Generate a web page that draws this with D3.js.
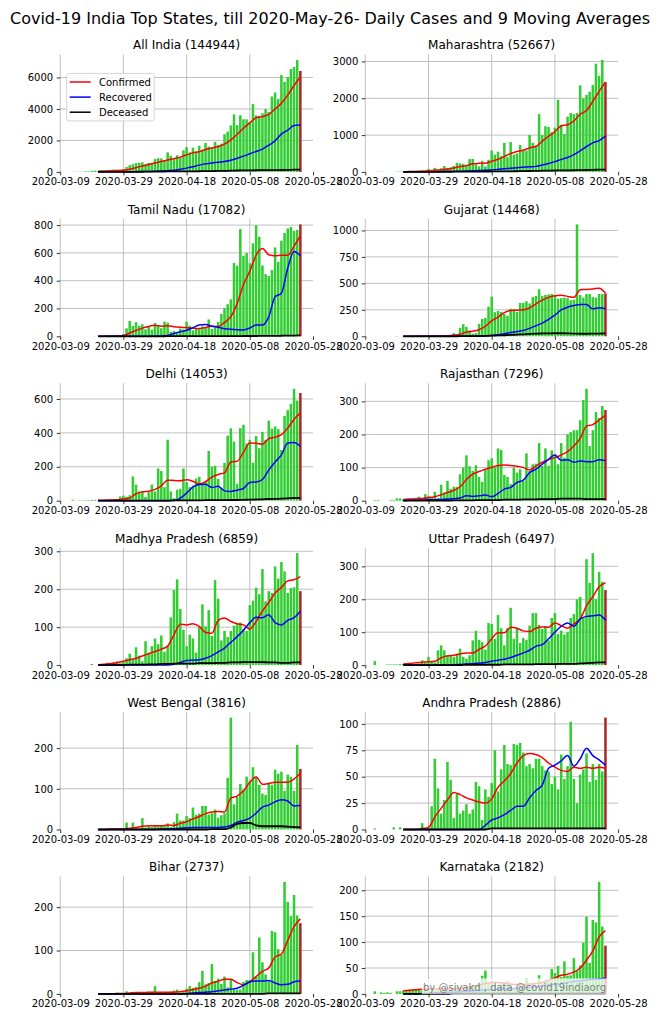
<!DOCTYPE html>
<html><head><meta charset="utf-8">
<script src="https://cdnjs.cloudflare.com/ajax/libs/d3/7.8.5/d3.min.js"></script>
<style>
body{margin:0;background:#fff}
svg{display:block}
text{font-family:"DejaVu Sans",sans-serif}
</style>
</head><body>
<svg id="c" width="660" height="1018"></svg>
<script>
// ---------- DATA ----------
const chartTitle = "Covid-19 India Top States, till 2020-May-26- Daily Cases and 9 Moving Averages";
const states = ["All India","Maharashtra","Tamil Nadu","Gujarat","Delhi","Rajasthan","Madhya Pradesh","Uttar Pradesh","West Bengal","Andhra Pradesh","Bihar","Karnataka"];
const totals = [144944,52667,17082,14468,14053,7296,6859,6497,3816,2886,2737,2182];
const firstDay = "2020-03-09";   // daily bars: one value per day from this date
const dayCount = 77;
const maFirstIndex = 12, maStep = 2; // moving-average samples every 2 days from 2020-03-21
const xTickLabels = ["2020-03-09","2020-03-29","2020-04-18","2020-05-08","2020-05-28"];
const xDomainEnd = "2020-05-28";
const legendLabels = ["Confirmed","Recovered","Deceased"];
const watermark = "by @sivakd , data @covid19indiaorg";

const yTicks = [[0,2000,4000,6000],[0,1000,2000,3000],[0,200,400,600,800],[0,250,500,750,1000],
  [0,200,400,600],[0,100,200,300],[0,100,200,300],[0,100,200,300],[0,100,200],[0,25,50,75,100],[0,100,200],[0,50,100,150,200]];

const indiaDaily = [0,0,0,0,12,14,15,11,37,27,58,78,69,94,74,86,73,153,136,120,187,309,424,486,560,579,609,484,573,565,813,871,854,758,1243,1031,886,1061,922,1371,1580,1239,1537,1292,1667,1408,1835,1607,1568,1902,1705,1801,2396,2564,2952,3656,2971,3602,3344,3339,3175,4311,3592,3562,3726,3991,3808,4794,5049,4628,6154,5720,6023,6536,6667,7111,6414];
const mhDaily = [0,0,0,0,5,5,3,0,0,0,8,10,10,15,30,20,30,20,40,20,80,50,110,60,100,160,110,120,160,250,230,220,180,350,350,200,150,300,150,330,580,470,550,430,790,400,810,470,500,730,600,580,1000,790,720,1570,1000,1240,1220,1080,1200,1960,1280,1030,1500,1600,1570,1600,2350,2000,2090,2180,2360,2940,2610,3040,2436];
const tnDaily = [0,0,0,0,0,0,0,0,0,0,0,1,1,3,3,6,3,6,2,8,17,57,110,75,102,74,86,50,69,48,96,77,58,106,98,31,38,25,56,49,105,76,43,56,54,72,66,121,52,64,104,161,203,231,266,527,508,771,580,600,526,669,798,716,509,447,434,477,639,536,688,743,776,786,759,765,805];
const gjDaily = [0,0,0,0,0,0,0,0,0,0,2,0,1,2,3,4,3,2,4,3,5,4,8,5,7,10,8,10,30,20,80,115,90,55,25,30,116,165,175,280,375,228,240,230,210,195,260,255,230,315,315,330,310,370,380,445,380,390,395,400,390,355,360,365,360,340,345,1057,390,365,400,400,370,365,400,400,405];
const dlDaily = [0,0,0,0,5,0,2,2,3,3,5,5,2,3,5,3,5,8,10,25,30,23,32,143,95,55,58,22,50,95,55,190,175,80,360,55,15,65,70,190,110,80,90,130,140,100,111,293,200,206,128,76,223,384,427,349,100,428,448,338,359,224,381,310,406,359,472,425,438,422,299,500,534,571,660,591,635];
const rjDaily = [0,0,0,2,2,0,0,0,2,2,7,7,4,3,4,5,4,12,5,20,15,10,27,8,48,25,60,35,42,42,80,100,137,104,90,107,72,57,93,122,128,100,158,153,78,72,50,100,85,95,60,143,90,110,112,174,105,158,105,152,140,110,174,130,200,207,213,213,243,304,338,165,213,268,250,286,274];
const mpDaily = [0,0,0,0,0,0,0,0,0,0,3,0,0,0,0,6,0,8,10,5,8,18,30,15,47,25,10,63,33,50,70,55,78,35,50,126,198,226,148,93,50,80,70,33,100,160,102,145,77,224,175,65,90,74,90,104,108,112,95,90,158,170,204,187,253,168,195,190,260,228,272,247,190,203,205,295,195];
const upDaily = [0,0,0,12,0,0,0,2,2,2,2,3,3,2,3,5,3,5,15,8,25,10,8,45,60,45,30,30,25,35,50,25,20,30,75,104,77,70,47,128,125,80,152,112,60,112,174,80,112,67,82,77,120,158,158,122,110,118,75,143,158,95,105,93,100,143,155,200,207,145,322,250,340,200,283,253,228];
const wbDaily = [0,0,0,0,0,0,0,0,0,0,0,0,1,0,1,0,0,3,1,2,1,17,2,17,3,2,28,5,8,6,10,8,10,8,15,6,18,39,22,22,33,28,54,36,39,58,58,37,40,49,29,35,40,127,275,62,80,112,98,130,120,153,130,110,88,85,115,110,147,137,142,95,135,130,95,208,149];
const apDaily = [0,0,0,1,0,0,0,0,0,2,0,2,0,0,0,0,0,0,6,0,1,22,67,39,15,28,64,47,11,34,15,18,24,15,19,45,41,9,38,31,44,75,36,57,80,62,61,81,80,82,73,60,62,58,67,67,60,56,55,43,50,38,71,48,60,102,48,25,52,57,72,45,62,47,62,55,106];
const bhDaily = [0,0,0,0,0,0,0,0,0,0,0,0,0,0,0,0,2,1,3,2,1,6,2,3,2,3,2,1,5,2,18,3,2,4,3,5,8,10,3,5,12,18,14,16,27,53,22,25,69,30,35,23,40,15,35,10,10,10,28,32,32,96,40,130,73,45,30,145,142,103,90,258,212,180,228,181,163];
const kaDaily = [0,0,0,5,0,3,2,3,2,0,5,5,6,7,8,9,9,10,8,12,10,9,7,12,14,10,8,12,10,15,12,14,10,15,18,17,22,35,45,20,25,18,15,20,18,25,15,12,20,22,18,30,12,22,15,36,20,25,25,48,40,54,33,63,35,36,69,45,55,99,149,60,143,138,216,130,93];

// 9-day moving averages, sampled every 2 days (2020-03-21 .. 2020-05-24)
const indiaConf = [36,51,66,91,110,174,272,379,468,566,656,752,844,938,1078,1208,1284,1428,1526,1613,1765,2037,2391,2777,3111,3438,3514,3650,4001,4367,4877,5487,6034];
const indiaRec = [2,3,4,5,7,10,14,20,30,45,60,80,110,170,240,330,430,510,570,610,660,740,870,1000,1150,1300,1450,1700,1970,2400,2650,2950,2980];
const indiaDec = [1,2,2,3,4,6,8,11,14,18,24,28,32,34,36,38,42,48,55,60,66,75,88,95,100,105,110,113,116,122,130,140,148];
const mhConf = [5,8,14,20,29,44,57,81,106,144,170,219,232,237,288,342,417,501,556,587,653,689,832,969,1091,1252,1279,1382,1566,1669,1917,2189,2445];
const mhRec = [0,1,2,3,4,6,8,10,13,17,22,28,35,42,55,70,85,100,115,128,140,150,190,230,280,340,390,470,570,690,790,850,970];
const mhDec = [0,0,1,1,1,2,3,4,5,7,8,9,10,11,12,13,14,16,18,20,24,28,32,35,38,40,42,45,48,52,56,60,64];
const tnConf = [0,1,2,3,5,24,42,59,71,79,73,76,69,65,63,58,56,64,72,70,100,141,235,372,468,583,631,587,579,583,583,649,722];
const tnRec = [0,0,0,0,0,0,0,0,1,2,3,6,20,32,43,62,82,85,72,65,55,50,47,46,60,82,82,140,285,310,490,610,580];
const tnDec = [0,0,0,0,0,0,0,0,0,0,0,1,1,1,1,1,1,1,1,1,1,1,1,2,2,2,3,3,3,4,5,5,6];
const gjConf = [1,1,2,2,3,4,5,6,10,20,41,48,62,95,146,182,224,244,247,250,269,307,342,368,384,388,377,368,440,442,447,455,408];
const gjRec = [0,0,0,0,0,0,0,0,0,0,0,0,1,3,8,15,25,35,45,55,75,100,125,160,200,250,275,290,300,300,260,270,260];
const gjDec = [0,0,0,0,0,0,0,0,0,1,1,2,3,4,6,8,10,13,16,19,22,25,27,28,29,29,28,26,24,24,25,26,27];
const dlConf = [3,3,4,5,10,16,41,52,56,67,88,121,119,118,124,115,99,113,139,155,164,228,233,285,340,339,333,366,375,390,428,480,518];
const dlRec = [0,0,0,0,0,0,0,0,0,0,0,0,1,15,45,80,95,97,78,85,58,55,62,72,108,110,125,180,228,270,340,343,320];
const dlDec = [0,0,0,0,0,0,0,0,1,1,1,1,2,2,2,2,2,3,3,3,3,4,4,5,6,7,8,10,11,12,14,16,17];
const rjConf = [4,5,6,7,9,12,18,25,31,42,64,80,88,95,101,106,108,106,104,100,93,105,116,124,130,138,148,165,188,225,230,244,258];
const rjRec = [0,1,1,2,3,3,4,5,6,8,15,13,15,17,12,22,35,40,55,62,85,95,110,125,138,122,124,116,120,118,118,124,121];
const rjDec = [0,0,0,0,0,0,0,0,1,1,1,1,2,2,2,2,3,3,3,4,4,4,5,5,5,6,6,6,6,5,5,5,5];
const mpConf = [1,2,4,6,10,14,18,24,30,36,42,50,80,108,106,109,102,86,84,118,124,115,109,106,95,115,143,165,190,205,222,225,233];
const mpRec = [0,0,0,0,0,0,0,0,0,0,0,0,2,7,12,13,14,18,25,35,45,60,75,92,112,126,125,133,112,106,118,125,142];
const mpDec = [0,0,0,0,0,1,1,1,2,2,3,3,4,4,4,4,5,5,5,6,6,7,7,8,8,8,8,7,7,6,6,7,7];
const upConf = [3,5,7,9,10,12,22,28,30,34,37,37,48,58,80,98,98,115,112,104,102,112,116,115,128,120,112,125,140,180,208,238,250];
const upRec = [0,0,0,0,0,0,0,0,1,2,3,4,6,8,12,15,18,23,30,37,45,57,62,80,100,118,128,118,140,148,150,152,136];
const upDec = [0,0,0,0,0,0,0,0,0,0,1,1,1,1,1,1,2,2,2,2,2,3,3,3,3,4,4,4,5,6,7,8,8];
const wbConf = [0,0,1,1,1,3,5,8,9,9,9,11,10,15,19,26,32,39,43,44,43,77,82,95,116,129,111,113,116,116,116,124,138];
const wbRec = [0,0,0,0,0,0,0,0,0,0,1,1,2,3,4,5,5,5,5,5,6,10,18,22,28,40,55,60,68,73,70,58,59];
const wbDec = [0,0,0,0,0,0,0,0,0,0,0,0,0,0,0,0,0,0,1,1,1,5,14,16,16,10,8,8,8,8,7,6,5];
const apConf = [0,0,0,1,2,12,20,28,35,33,30,28,26,25,29,40,46,53,63,70,72,71,68,63,59,56,55,59,58,59,58,59,58];
const apRec = [0,0,0,0,0,0,0,0,0,0,0,0,0,4,9,11,14,18,22,22,30,37,42,58,61,65,70,60,67,77,70,66,61];
const apDec = [0,0,0,0,0,0,0,0,0,0,0,0,0,0,1,1,1,1,1,1,1,1,1,1,1,1,1,1,1,1,1,1,1];
const bhConf = [0,0,0,1,1,2,3,3,4,4,4,4,4,5,7,10,13,18,25,29,34,34,26,21,28,40,52,60,85,92,123,155,173];
const bhRec = [0,0,0,0,0,0,0,0,0,0,0,0,0,0,1,2,3,4,5,7,9,11,13,20,28,30,30,31,25,21,22,28,30];
const bhDec = [0,0,0,0,0,0,0,0,0,0,0,0,0,0,0,0,0,0,0,0,0,0,0,0,0,0,0,1,1,1,1,1,1];
const kaConf = [6,7,8,9,10,10,10,10,10,11,12,14,17,20,22,22,21,19,18,18,19,20,22,27,31,36,38,42,50,65,83,110,122];
const kaRec = [0,0,0,1,1,2,2,3,3,4,5,6,7,8,8,9,10,10,11,12,13,14,15,17,18,20,22,24,25,27,28,29,30];
const kaDec = [0,0,0,0,0,0,0,0,1,1,1,1,1,1,1,1,1,1,1,1,1,1,1,1,1,1,1,1,1,1,1,1,1];

const dailySeries = [indiaDaily,mhDaily,tnDaily,gjDaily,dlDaily,rjDaily,mpDaily,upDaily,wbDaily,apDaily,bhDaily,kaDaily];
const confSeries = [indiaConf,mhConf,tnConf,gjConf,dlConf,rjConf,mpConf,upConf,wbConf,apConf,bhConf,kaConf];
const recSeries = [indiaRec,mhRec,tnRec,gjRec,dlRec,rjRec,mpRec,upRec,wbRec,apRec,bhRec,kaRec];
const decSeries = [indiaDec,mhDec,tnDec,gjDec,dlDec,rjDec,mpDec,upDec,wbDec,apDec,bhDec,kaDec];

// ---------- LAYOUT ----------
const parse = d3.timeParse("%Y-%m-%d");
const fmt = d3.timeFormat("%Y-%m-%d");
const start = parse(firstDay);
const days = d3.timeDay.range(start, d3.timeDay.offset(start, dayCount));
const maDays = d3.range(maFirstIndex, dayCount, maStep).map(i => days[i]);
const xTicks = xTickLabels.map(parse);

const colLeft = [60.2, 365.3], plotW = 252.8, plotH = 117.5, top0 = 54.4, rowStep = 164.4;
const lineColors = ["#ff0000","#0000ff","#000000"];
const lineWidths = [1.5,1.5,1.8];
const svg = d3.select("#c");

svg.append("text").attr("x",330).attr("y",24).attr("text-anchor","middle")
  .attr("font-size",16).attr("fill","#000").text(chartTitle);

states.forEach((name, i) => {
  const col = i % 2, row = Math.floor(i / 2);
  const left = colLeft[col], top = top0 + row * rowStep, bottom = top + plotH;
  const x = d3.scaleTime().domain([start, parse(xDomainEnd)]).range([left, left + plotW]);
  const daily = dailySeries[i];
  const ymax = d3.max([d3.max(daily), d3.max(confSeries[i]), d3.max(recSeries[i]), d3.max(decSeries[i])]);
  const y = d3.scaleLinear().domain([0, ymax * 1.05]).range([bottom, top]);
  const g = svg.append("g");

  // grid
  g.selectAll(".hg").data(yTicks[i].filter(v => v > 0)).join("line")
    .attr("x1", left).attr("x2", left + plotW)
    .attr("y1", d => y(d)).attr("y2", d => y(d))
    .attr("stroke", "#b0b0b0").attr("stroke-width", 0.8);
  g.selectAll(".vg").data(xTicks.slice(0, 4)).join("line")
    .attr("x1", d => x(d)).attr("x2", d => x(d))
    .attr("y1", top).attr("y2", bottom)
    .attr("stroke", "#b0b0b0").attr("stroke-width", 0.8);

  // bars
  const bw = (x(days[1]) - x(days[0])) * 0.8;
  g.selectAll(".bar").data(daily).join("rect")
    .attr("x", (d, j) => x(days[j]) - bw / 2)
    .attr("y", d => y(d))
    .attr("width", bw)
    .attr("height", d => bottom - y(d))
    .attr("fill", (d, j) => j === daily.length - 1 ? "#a52a2a" : "#32cd32");

  // moving-average lines
  const line = d3.line().x((d, j) => x(maDays[j])).y(d => y(d)).curve(d3.curveMonotoneX);
  [confSeries[i], recSeries[i], decSeries[i]].forEach((arr, k) => {
    g.append("path").attr("d", line(arr)).attr("fill", "none")
      .attr("stroke", lineColors[k]).attr("stroke-width", lineWidths[k])
      .attr("stroke-linejoin", "round");
  });

  // axes
  const ya = g.append("g").attr("transform", `translate(${left},0)`)
    .call(d3.axisLeft(y).tickValues(yTicks[i]).tickSize(3.5).tickPadding(3.5).tickFormat(d3.format("d")));
  const xa = g.append("g").attr("transform", `translate(0,${bottom})`)
    .call(d3.axisBottom(x).tickValues(xTicks).tickSize(3.5).tickPadding(3).tickFormat(fmt));
  [ya, xa].forEach(a => {
    a.select(".domain").remove();
    a.selectAll("line").attr("stroke", "#000").attr("stroke-width", 0.8);
    a.selectAll("text").attr("font-size", 10).attr("font-family", "DejaVu Sans").attr("fill", "#000");
  });

  // title
  g.append("text").attr("x", left + plotW / 2).attr("y", top - 5)
    .attr("text-anchor", "middle").attr("font-size", 12).attr("fill", "#000")
    .text(`${name} (${totals[i]})`);

  // legend
  if (i === 0) {
    const lg = g.append("g");
    lg.append("rect").attr("x", left + 6.5).attr("y", top + 19).attr("width", 87.5).attr("height", 47.5)
      .attr("rx", 2).attr("fill", "#fff").attr("fill-opacity", 0.85).attr("stroke", "#cccccc").attr("stroke-width", 0.8);
    legendLabels.forEach((lab, k) => {
      const yy = top + 27.6 + k * 15.1;
      lg.append("line").attr("x1", left + 9.5).attr("x2", left + 30.5).attr("y1", yy).attr("y2", yy)
        .attr("stroke", lineColors[k]).attr("stroke-width", 1.5);
      lg.append("text").attr("x", left + 38.8).attr("y", yy + 3.6).attr("font-size", 10).attr("fill", "#000").text(lab);
    });
  }

  // watermark
  if (i === states.length - 1) {
    g.append("rect").attr("x", left + 56.4).attr("y", bottom - 15.5).attr("width", 185.6).attr("height", 15.5)
      .attr("fill", "#fff").attr("fill-opacity", 0.75);
    g.append("text").attr("x", left + 149.2).attr("y", bottom - 2.5).attr("text-anchor", "middle")
      .attr("font-size", 10).attr("fill", "#808080").text(watermark);
  }
});
</script>
</body></html>
